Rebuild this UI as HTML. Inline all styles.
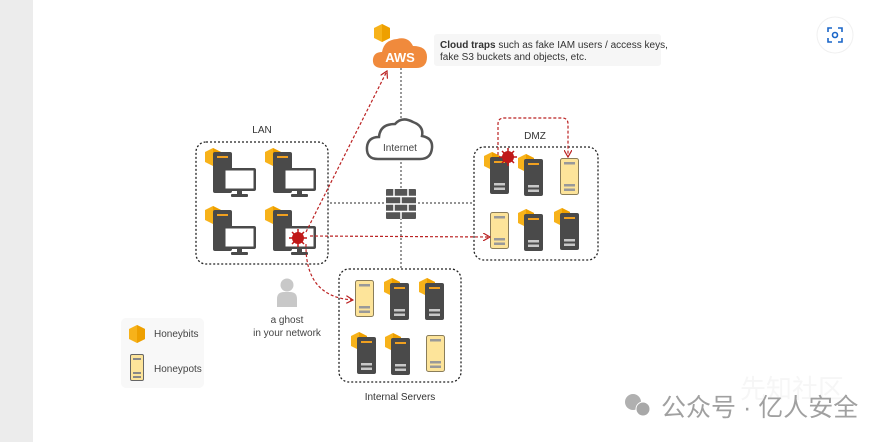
<!DOCTYPE html>
<html><head><meta charset="utf-8"><style>
html,body{margin:0;padding:0;background:#fff;}
svg{display:block;}
text{font-family:"Liberation Sans",sans-serif;}
</style></head><body>
<svg width="891" height="442" viewBox="0 0 891 442" xmlns="http://www.w3.org/2000/svg">
<defs>
<g id="hb"><polygon points="0,4 8,0 16,4 16,14 8,18 0,14" fill="#f7b21a"/><polygon points="8,0 16,4 16,14 8,18" fill="#eea000"/></g>
<g id="sd"><use href="#hb" x="-6" y="-5"/><rect x="0" y="0" width="19" height="37" rx="2" fill="#4a4a4a"/><rect x="4" y="4" width="11" height="2" fill="#f0a020"/><rect x="4" y="26" width="11" height="2.5" fill="#c8c8c8"/><rect x="4" y="30.5" width="11" height="2.5" fill="#c8c8c8"/></g>
<g id="sy"><rect x="0.5" y="0.5" width="18" height="36" rx="2" fill="#fde49a" stroke="#8a7d5a"/><rect x="4" y="4" width="11" height="2.5" fill="#999"/><rect x="4" y="26" width="11" height="2.5" fill="#999"/><rect x="4" y="30.5" width="11" height="2.5" fill="#999"/></g>
<g id="pc"><use href="#hb" x="-4" y="-2"/><rect x="4" y="2" width="19" height="41" rx="2" fill="#4a4a4a"/><rect x="8" y="6" width="11" height="2" fill="#f0a020"/><rect x="14" y="18" width="33" height="23" rx="2" fill="#4a4a4a"/><rect x="16.5" y="20.5" width="28" height="18" fill="#fff"/><rect x="28" y="41" width="5" height="4" fill="#4a4a4a"/><rect x="22" y="44" width="17" height="3" rx="1" fill="#4a4a4a"/></g>
<marker id="ar" markerWidth="8" markerHeight="8" refX="7" refY="4" orient="auto" markerUnits="userSpaceOnUse"><path d="M0,0 L7,4 L0,8" fill="none" stroke="#b22" stroke-width="1.2"/></marker>
<g id="bug"><circle r="6" fill="#c01818"/><g stroke="#c01818" stroke-width="1.5"><line x1="-9" y1="0" x2="9" y2="0"/><line x1="0" y1="-9" x2="0" y2="9"/><line x1="-6" y1="-6" x2="6" y2="6"/><line x1="-6" y1="6" x2="6" y2="-6"/></g></g>
</defs>
<rect x="0" y="0" width="33" height="442" fill="#ececec"/>
<circle cx="835" cy="35" r="18" fill="#fff" stroke="#f0f0f0"/>
<g fill="none" stroke="#1a66c8" stroke-width="1.6"><path d="M828,32v-4h4M838,28h4v4M842,38v4h-4M832,42h-4v-4"/><circle cx="835" cy="35" r="2.5"/></g>
<g stroke="#555" stroke-width="1.2" stroke-dasharray="2,2" fill="none">
<line x1="401" y1="68" x2="401" y2="122"/><line x1="401" y1="158" x2="401" y2="270"/>
<line x1="330" y1="203" x2="474" y2="203"/></g>
<rect x="434" y="34" width="227" height="32" rx="3" fill="#f6f6f6"/>
<text x="440" y="48" font-size="10" fill="#333"><tspan font-weight="bold">Cloud traps</tspan> such as fake IAM users / access keys,</text>
<text x="440" y="60" font-size="10" fill="#333">fake S3 buckets and objects, etc.</text>
<use href="#hb" x="374" y="24"/>
<path d="M382,68 Q372,68 373,59 Q374,52 382,52 Q384,40 397,39 Q408,36 413,46 Q427,46 427,57 Q427,68 416,68 Z" fill="#f08a3c"/>
<text x="400" y="62" font-size="13" font-weight="bold" fill="#fff" text-anchor="middle">AWS</text>
<path d="M378,159 Q366,159 367,147 Q368,137 379,137 Q380,124 395,124 Q402,116 413,122 Q424,126 422,136 Q433,138 432,148 Q431,159 420,159 Z" fill="#fff" stroke="#555" stroke-width="2.5"/>
<text x="400" y="151" font-size="10" fill="#444" text-anchor="middle">Internet</text>
<g fill="#555"><rect x="386" y="189" width="30" height="30" rx="1"/></g>
<g stroke="#fff" stroke-width="1.5"><line x1="386" y1="196.5" x2="416" y2="196.5"/><line x1="386" y1="204" x2="416" y2="204"/><line x1="386" y1="211.5" x2="416" y2="211.5"/>
<line x1="394" y1="189" x2="394" y2="196"/><line x1="408" y1="189" x2="408" y2="196"/><line x1="401" y1="197" x2="401" y2="204"/><line x1="394" y1="204" x2="394" y2="211"/><line x1="408" y1="204" x2="408" y2="211"/><line x1="401" y1="212" x2="401" y2="219"/></g>
<g fill="none" stroke="#222" stroke-width="1.3" stroke-dasharray="2,2">
<rect x="196" y="142" width="132" height="122" rx="10"/>
<rect x="474" y="147" width="124" height="113" rx="10"/>
<rect x="339" y="269" width="122" height="113" rx="10"/></g>
<text x="262" y="133" font-size="10" fill="#333" text-anchor="middle">LAN</text>
<text x="535" y="139" font-size="10" fill="#333" text-anchor="middle">DMZ</text>
<text x="400" y="400" font-size="10" fill="#333" text-anchor="middle">Internal Servers</text>
<use href="#pc" x="209" y="150"/><use href="#pc" x="269" y="150"/>
<use href="#pc" x="209" y="208"/><use href="#pc" x="269" y="208"/>
<use href="#sd" x="490" y="157"/><use href="#sd" x="524" y="159"/><use href="#sy" x="560" y="158"/>
<use href="#sy" x="490" y="212"/><use href="#sd" x="524" y="214"/><use href="#sd" x="560" y="213"/>
<use href="#sy" x="355" y="280"/><use href="#sd" x="390" y="283"/><use href="#sd" x="425" y="283"/>
<use href="#sd" x="357" y="337"/><use href="#sd" x="391" y="338"/><use href="#sy" x="426" y="335"/>
<g stroke="#b22" stroke-width="1.2" stroke-dasharray="3,2" fill="none">
<line x1="306" y1="232" x2="387" y2="71" marker-end="url(#ar)"/>
<line x1="310" y1="236" x2="490" y2="237" marker-end="url(#ar)"/>
<path d="M306,244 Q305,297 353,300" marker-end="url(#ar)"/>
<path d="M498,155 V124 Q498,118 504,118 H562 Q568,118 568,124 V157" marker-end="url(#ar)"/></g>
<use href="#bug" x="298" y="238"/>
<use href="#bug" x="508" y="157"/>
<circle cx="287" cy="285" r="6.5" fill="#c8c8c8"/>
<path d="M277,307 V299 Q277,292 284,292 H290 Q297,292 297,299 V307 Z" fill="#c8c8c8"/>
<text x="287" y="323" font-size="10" fill="#444" text-anchor="middle">a ghost</text>
<text x="287" y="336" font-size="10" fill="#444" text-anchor="middle">in your network</text>
<rect x="121" y="318" width="83" height="70" rx="5" fill="#f8f8f8"/>
<use href="#hb" x="129" y="325"/>
<text x="154" y="337" font-size="10" fill="#444">Honeybits</text>
<rect x="130.5" y="354.5" width="13" height="26" rx="1.5" fill="#fde49a" stroke="#666"/>
<rect x="133" y="358" width="8" height="2" fill="#888"/><rect x="133" y="372" width="8" height="2" fill="#888"/><rect x="133" y="376" width="8" height="2" fill="#888"/>
<text x="154" y="372" font-size="10" fill="#444">Honeypots</text>
<text x="740" y="398" font-size="26" fill="#f6f6f6" font-family="'Noto Sans CJK SC',sans-serif">先知社区</text>
<circle cx="633" cy="402" r="8" fill="#b0b0b0"/><circle cx="643" cy="409" r="7" fill="#a8a8a8" stroke="#fff" stroke-width="1"/>
<text x="661" y="416" font-size="25" fill="#a0a0a0" font-family="'Liberation Sans','Noto Sans CJK SC',sans-serif">公众号 · 亿人安全</text>
</svg>
</body></html>
